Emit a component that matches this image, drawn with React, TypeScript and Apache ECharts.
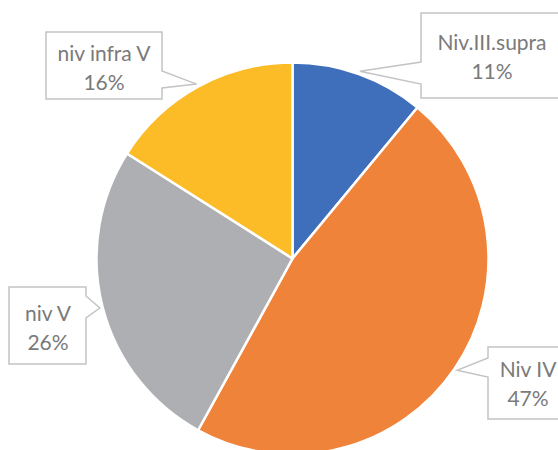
import React, { useEffect, useRef } from "react";
import * as echarts from "echarts";

const categories = ["Niv.III.supra", "Niv IV", "niv V", "niv infra V"];
const percents = [11, 47, 26, 16];
const colors = ["#3F6FBA", "#F0833A", "#AEAFB2", "#FBBC27"];

// layout constants (pixels)
const CX = 292.5;
const CY = 258.5;
const R = 196;
// callout boxes: [x0, y0, x1, y1], pointer side, pointer base [p0, p1]
const boxes: { r: number[]; side: "left" | "right"; base: number[] }[] = [
  { r: [421, 13, 566, 98], side: "left", base: [62, 84] },
  { r: [488, 347, 570, 419], side: "left", base: [358, 377] },
  { r: [9, 287, 86, 364], side: "right", base: [296, 318] },
  { r: [46, 32, 162, 99], side: "right", base: [71, 88] },
];
const textCenters = [
  [492, 56],
  [528, 383],
  [48, 327],
  [104, 67],
];

export default function App() {
  const ref = useRef<HTMLDivElement>(null);
  useEffect(() => {
    if (!ref.current) return;
    const chart = echarts.init(ref.current, undefined, { renderer: "svg" });
    const total = percents.reduce((a, b) => a + b, 0);
    let cum = 0;
    const polys = percents.map((v, i) => {
      const mid = ((cum + v / 2) / total) * Math.PI * 2;
      cum += v;
      const tip = [CX + (R + 3) * Math.sin(mid), CY - (R + 3) * Math.cos(mid)];
      const b = boxes[i];
      const [x0, y0, x1, y1] = b.r;
      const [p0, p1] = b.base;
      const pts =
        b.side === "right"
          ? [[x0, y0], [x1, y0], [x1, p0], tip, [x1, p1], [x1, y1], [x0, y1]]
          : [[x0, y0], [x1, y0], [x1, y1], [x0, y1], [x0, p1], tip, [x0, p0]];
      return {
        type: "polygon",
        z: 1,
        shape: { points: pts },
        style: { fill: "#FFFFFF", stroke: "#C4C4C4", lineWidth: 1.5 },
      };
    });
    chart.setOption({
      animation: false,
      backgroundColor: "#FFFFFF",
      graphic: polys,
      series: [
        {
          type: "pie",
          z: 5,
          center: [CX, CY],
          radius: R,
          startAngle: 90,
          clockwise: true,
          percentPrecision: 0,
          itemStyle: { borderColor: "#FFFFFF", borderWidth: 2.5 },
          label: {
            show: true,
            formatter: "{b}\n{d}%",
            fontFamily: "Lato",
            fontSize: 21,
            lineHeight: 29,
            color: "#7A7A7A",
            align: "center",
            overflow: "none",
            width: 200,
          },
          labelLine: { show: false },
          labelLayout: (p: any) => ({
            x: textCenters[p.dataIndex][0],
            y: textCenters[p.dataIndex][1],
            align: "center",
            verticalAlign: "middle",
          }),
          emphasis: { disabled: true },
          data: categories.map((name, i) => ({
            name,
            value: percents[i],
            itemStyle: { color: colors[i] },
          })),
        },
      ],
    });
    return () => chart.dispose();
  }, []);
  return (
    <div
      ref={ref}
      style={{ position: "fixed", left: 0, top: 0, width: 558, height: 450 }}
    />
  );
}
